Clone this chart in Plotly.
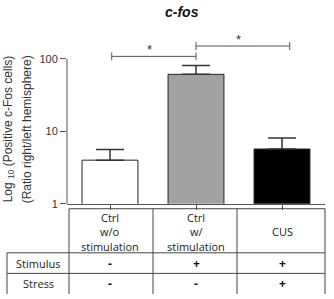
import math
import plotly.graph_objects as go

W, H = 334, 299

# ---- data ----
groups = ["Ctrl<br>w/o<br>stimulation", "Ctrl<br>w/<br>stimulation", "CUS"]
means = [4.0, 61.0, 5.7]
err_up = [1.6, 20.0, 2.4]
bar_colors = ["#ffffff", "#a2a2a4", "#000000"]
stimulus = ["-", "+", "+"]
stress = ["-", "-", "+"]
brackets = [(0.02, 1.0, 108.0), (1.0, 2.09, 150.0)]
star_labels = ["*", "*"]
ytickvals = [1, 10, 100]
yticktext = ["1", "10", "100"]


def px(x):
    return x / W


def py(y):
    return 1 - y / H


x_cats = list(range(len(groups)))
ytop_log = (208 - 30) / 74.0

fig = go.Figure()
fig.add_trace(go.Bar(
    x=x_cats, y=means, width=0.65,
    marker=dict(color=bar_colors, line=dict(color="#222222", width=1)),
    error_y=dict(type="data", array=err_up, arrayminus=[0] * 3, symmetric=False,
                 color="#333333", thickness=1.5, width=14),
    showlegend=False,
))

shapes = []
annotations = []

# y axis line from 1 to 100
shapes.append(dict(type="line", xref="x domain", yref="y", x0=0, x1=0,
                   y0=ytickvals[0], y1=ytickvals[-1],
                   line=dict(color="#555555", width=1)))

# significance brackets
for (a, b, yv), lab in zip(brackets, star_labels):
    lc = dict(color="#555555", width=1)
    ylo = 10 ** (math.log10(yv) - 0.055)
    yhi = 10 ** (math.log10(yv) + 0.055)
    shapes.append(dict(type="line", xref="x", yref="y", x0=a, x1=b, y0=yv, y1=yv, line=lc))
    shapes.append(dict(type="line", xref="x", yref="y", x0=a, x1=a, y0=ylo, y1=yhi, line=lc))
    shapes.append(dict(type="line", xref="x", yref="y", x0=b, x1=b, y0=ylo, y1=yhi, line=lc))
    annotations.append(dict(x=(a + b) / 2, y=math.log10(yv), xref="x", yref="y",
                            text=lab, showarrow=False, xanchor="center", yanchor="bottom",
                            yshift=-3, xshift=-4,
                            font=dict(size=13, color="#333333", family="Liberation Sans")))

# table lines
tl = dict(color="#444444", width=1)
for (x0, y0, x1, y1) in [
    (69, 213, 325, 213), (69, 213, 69, 300), (153, 213, 153, 300), (237, 213, 237, 300),
    (325, 213, 325, 300), (7, 258, 325, 258), (7, 279, 325, 279), (7, 258, 7, 300),
]:
    shapes.append(dict(type="line", xref="paper", yref="paper",
                       x0=px(x0), x1=px(x1), y0=py(y0), y1=py(y1), line=tl))

tfont = dict(size=11, color="#1a1a1a", family="Open Sans")
sfont = dict(size=12, color="#111111", family="Open Sans")
for i, g in enumerate(groups):
    lines = g.split("<br>")
    n = len(lines)
    for k, ln in enumerate(lines):
        yc = 236.5 + (k - (n - 1) / 2) * 15
        annotations.append(dict(x=i, y=py(yc), xref="x", yref="paper", text=ln,
                                showarrow=False, xanchor="center", yanchor="middle", font=tfont))
    annotations.append(dict(x=i, y=py(268.5), xref="x", yref="paper", text="<b>%s</b>" % stimulus[i],
                            showarrow=False, xanchor="center", yanchor="middle", font=sfont))
    annotations.append(dict(x=i, y=py(289.5), xref="x", yref="paper", text="<b>%s</b>" % stress[i],
                            showarrow=False, xanchor="center", yanchor="middle", font=sfont))

annotations.append(dict(x=px(38), y=py(268.5), xref="paper", yref="paper", text="Stimulus",
                        showarrow=False, xanchor="center", yanchor="middle", font=tfont))
annotations.append(dict(x=px(38), y=py(289.5), xref="paper", yref="paper", text="Stress",
                        showarrow=False, xanchor="center", yanchor="middle", font=tfont))

# title
annotations.append(dict(x=px(182), y=py(12), xref="paper", yref="paper",
                        text="<b><i>c-fos</i></b>", showarrow=False, xanchor="center",
                        yanchor="middle",
                        font=dict(size=14, color="#111111", family="Liberation Sans")))

# y axis title (two lines)
yfont = dict(size=12, color="#333333", family="Liberation Sans")
annotations.append(dict(x=px(9), y=py(132), xref="paper", yref="paper",
                        text="Log <sub>10</sub> (Positive c-Fos cells)", textangle=-90,
                        showarrow=False, xanchor="center", yanchor="middle", font=yfont))
annotations.append(dict(x=px(27), y=py(132), xref="paper", yref="paper",
                        text="(Ratio right/left hemisphere)", textangle=-90,
                        showarrow=False, xanchor="center", yanchor="middle", font=yfont))

fig.update_layout(
    width=W, height=H, margin=dict(l=0, r=0, t=0, b=0),
    paper_bgcolor="white", plot_bgcolor="white",
    shapes=shapes, annotations=annotations,
    xaxis=dict(domain=[px(67), px(325)], range=[-0.5, 2.5], tickvals=x_cats,
               showticklabels=False, ticks="outside", ticklen=5, tickcolor="#555555",
               showline=True, linecolor="#555555", linewidth=1, showgrid=False,
               zeroline=False),
    yaxis=dict(type="log", domain=[py(208), py(30)], range=[0, ytop_log],
               tickvals=ytickvals, ticktext=yticktext, ticks="outside", ticklen=6,
               tickcolor="#555555", showline=False, showgrid=False, zeroline=False,
               tickfont=dict(size=11, color="#333333", family="Liberation Sans")),
)

fig.write_html("out.html")
